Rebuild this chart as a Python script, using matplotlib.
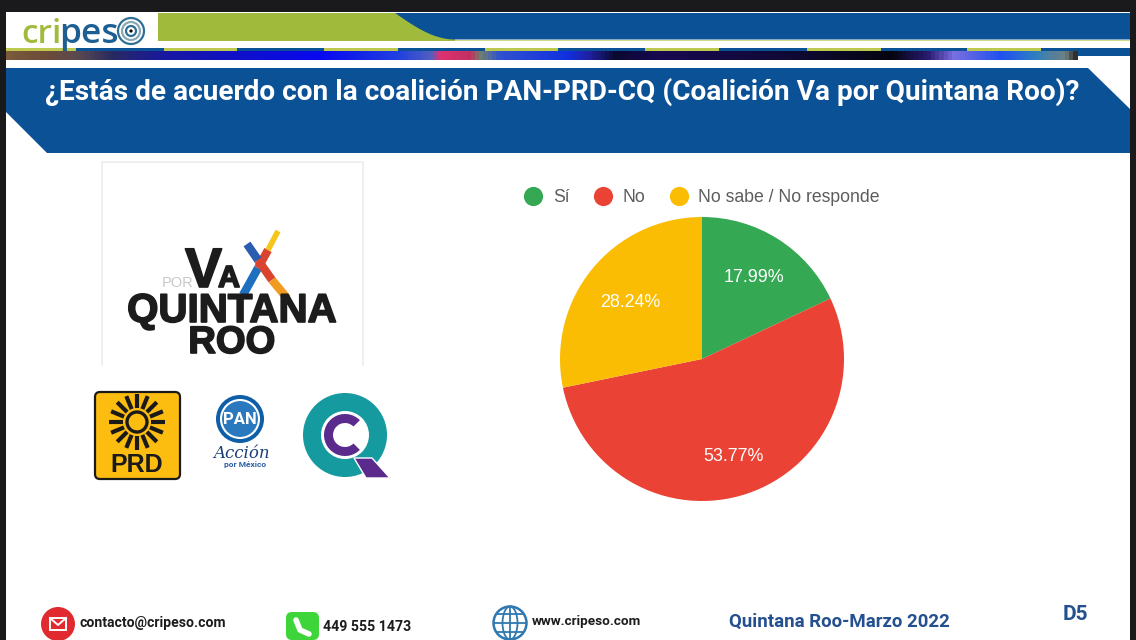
import numpy as np
import matplotlib
matplotlib.use('Agg')
import matplotlib.pyplot as plt
import matplotlib.patheffects as pe
from matplotlib.colors import LinearSegmentedColormap
from matplotlib.lines import Line2D
from matplotlib.patches import Rectangle, Polygon, Circle, Ellipse, FancyBboxPatch, Wedge

# chart data
categories = ['Sí', 'No', 'No sabe / No responde']
values = [17.99, 53.77, 28.24]
colors = ['#34a853', '#ea4335', '#fbbc04']

title = '¿Estás de acuerdo con la coalición PAN-PRD-CQ (Coalición Va por Quintana Roo)?'
footer = 'Quintana Roo-Marzo 2022'
page = 'D5'

BLUE = '#0b5196'
GREEN = '#a0bb3c'
HEAVY = [pe.withStroke(linewidth=1.2, foreground='#1c1c1c')]

fig = plt.figure(figsize=(11.36, 6.4), dpi=100, facecolor='#1a1a1c')

# page background, drawn in pixel coordinates
bg = fig.add_axes([0, 0, 1, 1])
bg.axis('off')

bg.add_patch(Rectangle((6, 12), 1124, 628, fc='white', ec='none', zorder=0))

# top band
bg.add_patch(Rectangle((158, 13), 297, 28, fc=GREEN, ec='none'))
t = np.linspace(0, 1, 40)
curve_x = 395 + 60 * t
curve_y = 13 + 26.5 * np.sin(t * np.pi / 2)
bg.add_patch(Polygon(list(zip(curve_x, curve_y)) + [(1130, 39.5), (1130, 13)], fc=BLUE, ec='none'))
bg.add_patch(Rectangle((455, 39.5), 675, 1.5, fc='#cfd98a', ec='none'))

# coloured strip under the band
strip_x = [6, 47, 76, 109, 163, 235, 319, 398, 430, 440, 470, 480, 500, 568, 590, 615, 657, 785, 894, 930, 956, 1003, 1039, 1068, 1078]
strip_c = ['#7a5a3a', '#6b4a3a', '#5a4a50', '#2a2a60', '#1818a0', '#1010c8', '#0808f0', '#2040e0', '#5060c0', '#e03070',
           '#c03060', '#708070', '#3050d0', '#1030e0', '#2020a0', '#0a0a30', '#180850', '#100a38', '#050510', '#2a1a70',
           '#7a70e0', '#2050f0', '#3080c0', '#708080', '#303030']
stops = [(x - strip_x[0]) / (strip_x[-1] - strip_x[0]) for x in strip_x]
cmap = LinearSegmentedColormap.from_list('strip', list(zip(stops, strip_c)))
bg.imshow(np.linspace(0, 1, 1072)[None, :], cmap=cmap, extent=(6, 1078, 60, 50), aspect='auto', zorder=1)
bg.add_patch(Rectangle((6, 48), 1124, 3, fc=BLUE, ec='none', zorder=2))
bg.add_patch(Rectangle((1078, 48), 52, 7.5, fc=BLUE, ec='none', zorder=2))
for x0, x1 in [(6, 76), (164, 237), (324, 398), (485, 558), (645, 719), (807, 881), (967, 1041)]:
    bg.add_patch(Rectangle((x0, 48), x1 - x0, 3, fc='#bcc94e', ec='none', zorder=3))

# logo top left
bg.text(21, 43, 'cri', fontsize=24, family='Open Sans', color=GREEN, va='baseline', weight='semibold')
bg.text(59, 43, 'pes', fontsize=25.5, family='Open Sans', color='#1d5f93', va='baseline', weight='semibold')
for r, c in [(13, '#2f6f94'), (9, '#8aa9b5'), (5, '#2f6f94')]:
    bg.add_patch(Circle((131, 31), r, fc='none', ec=c, lw=1.6))
bg.add_patch(Circle((131, 31), 1.6, fc='black', ec='none'))

# title banner
bg.add_patch(Polygon([(6, 68), (1088, 68), (1130, 109), (1130, 153), (47, 153), (6, 112)], fc=BLUE, ec='none'))
bg.text(562, 91.5, title, fontsize=20.2, family='Roboto', weight='bold', color='white', ha='center', va='center')

# coalition logo box
bg.plot([102, 102, 363, 363], [365, 162, 162, 365], color='#ececec', lw=1.2)
bg.text(162, 287, 'POR', fontsize=10.5, family='Liberation Sans', color='#c8c8c8', va='baseline')
bg.text(185, 287, 'V', fontsize=40, family='Liberation Sans', weight='bold', color='#1c1c1c', va='baseline', path_effects=HEAVY)
bg.text(218, 287, 'A', fontsize=22, family='Liberation Sans', weight='bold', color='#1c1c1c', va='baseline', path_effects=HEAVY)
for xs, ys, c, w in [([243, 258], [295, 268], '#1f6fc0', 6),
                     ([258, 268], [268, 250], '#d9432f', 6),
                     ([268, 278], [250, 231], '#f5c518', 4),
                     ([247, 258], [244, 260], '#2a5cb0', 6),
                     ([258, 272], [260, 280], '#d9432f', 6),
                     ([272, 287], [280, 298], '#f09a20', 6)]:
    bg.plot(xs, ys, color=c, lw=w, solid_capstyle='butt')
bg.text(232, 322, 'QUINTANA', fontsize=29, family='Liberation Sans', weight='bold', color='#1c1c1c', ha='center', va='baseline', path_effects=HEAVY)
bg.text(232, 353, 'ROO', fontsize=27.5, family='Liberation Sans', weight='bold', color='#1c1c1c', ha='center', va='baseline', path_effects=HEAVY)

# PRD logo
bg.add_patch(FancyBboxPatch((95, 392), 85, 87, boxstyle='round,pad=0,rounding_size=5', fc='#fdbd10', ec='#1a1a1a', lw=1.6))
for a in np.arange(0, 360, 22.5):
    ca, sa = np.cos(np.radians(a)), np.sin(np.radians(a))
    bg.plot([137 + 14 * ca, 137 + 28 * ca], [422 + 14 * sa, 422 + 28 * sa], color='#1a1a1a', lw=3, solid_capstyle='butt')
bg.add_patch(Circle((137, 422), 10, fc='none', ec='#1a1a1a', lw=2.4))
bg.text(137, 465, 'PRD', fontsize=18, family='Liberation Sans', weight='bold', color='#1a1a1a', ha='center', va='center')

# PAN logo
bg.add_patch(Circle((240, 419), 24, fc='#0f5ea8', ec='none'))
bg.add_patch(Circle((240, 419), 19, fc='#2a78bd', ec='white', lw=1.5))
bg.text(240, 419, 'PAN', fontsize=12, family='Roboto', weight='bold', color='white', ha='center', va='center')
bg.text(242, 453, 'Acción', fontsize=12, family='DejaVu Serif', style='italic', color='#1d3f78', ha='center', va='center')
bg.text(245, 465, 'por México', fontsize=6, family='Roboto', weight='bold', color='#2a5fa8', ha='center', va='center')

# QRoo logo
bg.add_patch(Circle((345, 435), 42, fc='#159aa0', ec='none'))
bg.add_patch(Circle((345, 435), 24, fc='white', ec='none'))
bg.add_patch(Wedge((345, 435), 21, 45, 315, width=9, fc='#5a2a8c', ec='none'))
bg.add_patch(Polygon([(354, 458), (372, 458), (390, 478), (366, 478)], fc='#5a2a8c', ec='white', lw=1))

# footer
bg.add_patch(Circle((58, 624), 17, fc='#e02a2f', ec='none'))
bg.add_patch(Rectangle((50, 618), 16, 12, fc='#e02a2f', ec='white', lw=1.4))
bg.plot([50, 58, 66], [618, 625, 618], color='white', lw=1.4)
bg.text(80, 623, 'contacto@cripeso.com', fontsize=10.1, family='Roboto', weight='bold', color='#1c1c1c', va='center')
bg.add_patch(FancyBboxPatch((286, 612), 33, 28, boxstyle='round,pad=0,rounding_size=6', fc='#3ed53a', ec='none'))
bg.plot([296, 300, 309], [620, 630, 634], color='white', lw=4, solid_capstyle='round')
bg.text(323, 627, '449 555 1473', fontsize=10.2, family='Roboto', weight='bold', color='#1c1c1c', va='center')
bg.add_patch(Circle((510, 623), 16.5, fc='white', ec='#2f78b0', lw=1.8))
bg.add_patch(Ellipse((510, 623), 15, 33, fc='none', ec='#2f78b0', lw=1.3))
bg.plot([510, 510], [606.5, 639.5], color='#2f78b0', lw=1.3)
bg.plot([494, 526], [623, 623], color='#2f78b0', lw=1.3)
bg.plot([497, 523], [614, 614], color='#2f78b0', lw=1.3)
bg.plot([497, 523], [632, 632], color='#2f78b0', lw=1.3)
bg.text(532, 622, 'www.cripeso.com', fontsize=9.7, family='Roboto', weight='bold', color='#1c1c1c', va='center')
bg.text(729, 622, footer, fontsize=13.4, family='Roboto', weight='bold', color='#25508f', va='center')
bg.text(1063, 614, page, fontsize=15, family='Roboto', weight='bold', color='#25508f', va='center')

bg.set_xlim(0, 1136)
bg.set_ylim(640, 0)

# pie
ax = fig.add_axes([560 / 1136, (640 - 501) / 640, 284 / 1136, 284 / 640])
ax.patch.set_alpha(0)
wedges, _, autotexts = ax.pie(values, colors=colors, startangle=90, counterclock=False,
                              autopct='%.2f%%', pctdistance=0.68, radius=1,
                              textprops={'color': 'white', 'fontsize': 12.9, 'family': 'Liberation Sans'})
ax.set_xlim(-1, 1)
ax.set_ylim(-1, 1)
# small nudges to sit the labels where the reference has them
x, y = autotexts[1].get_position()
autotexts[1].set_position((x + 0.01, y - 0.04))
x, y = autotexts[2].get_position()
autotexts[2].set_position((x + 0.02, y - 0.03))

# legend
handles = [Line2D([], [], marker='o', ls='', color=c, markersize=12.8) for c in colors]
leg = fig.legend(handles, categories, ncol=3, frameon=False, loc='center', bbox_to_anchor=(702 / 1136, (640 - 197.5) / 640),
                 handlelength=1, handletextpad=0.6, columnspacing=1.4, borderpad=0,
                 prop={'family': 'Liberation Sans', 'size': 12.7})
for txt in leg.get_texts():
    txt.set_color('#5c5c5c')

fig.savefig('out.png', dpi=100, facecolor=fig.get_facecolor())
